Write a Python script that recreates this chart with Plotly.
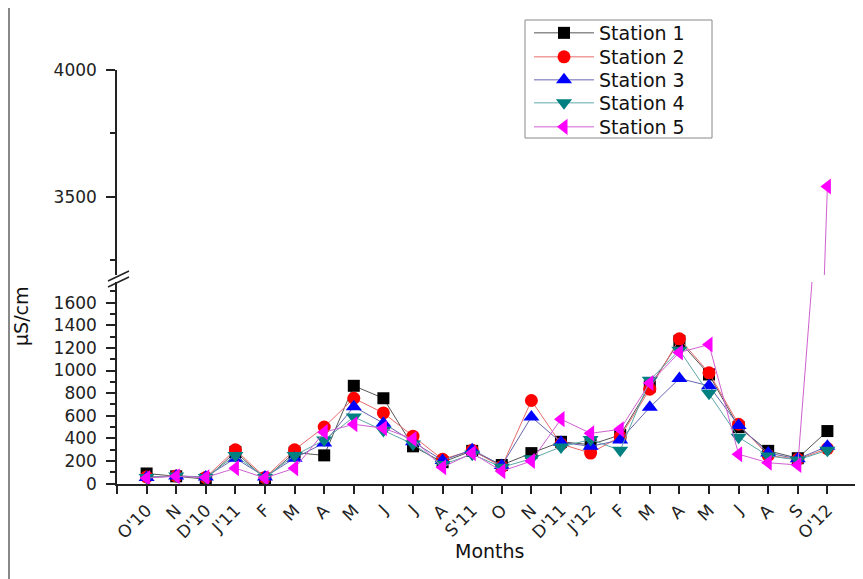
import plotly.graph_objects as go

months = ["O'10", "N", "D'10", "J'11", "F", "M", "A", "M", "J", "J", "A", "S'11",
          "O", "N", "D'11", "J'12", "F", "M", "A", "M", "J", "A", "S", "O'12"]

station1 = [90, 65, 40, 280, 45, 275, 250, 865, 755, 330, 190, 290,
            165, 270, 370, 345, 430, 860, 1260, 965, 500, 290, 225, 465]
station2 = [60, 68, 55, 300, 55, 300, 500, 755, 625, 420, 215, 295,
            150, 735, 350, 270, 415, 835, 1280, 980, 525, 250, 215, 310]
station3 = [55, 68, 60, 225, 60, 225, 360, 680, 535, 370, 205, 300,
            160, 590, 365, 330, 385, 675, 930, 865, 515, 270, 220, 330]
station4 = [55, 68, 55, 250, 55, 250, 385, 590, 470, 350, 170, 260,
            145, 220, 325, 390, 295, 915, 1180, 800, 410, 245, 210, 295]
station5 = [50, 65, 55, 137, 50, 137, 455, 525, 490, 395, 145, 270,
            110, 200, 570, 445, 480, 890, 1160, 1230, 260, 185, 165, 3540]

names = ["Station 1", "Station 2", "Station 3", "Station 4", "Station 5"]
series = [station1, station2, station3, station4, station5]
marker_colors = ["#000000", "#FF0000", "#0000FF", "#008080", "#FF00FF"]
line_colors = ["#555555", "#E86A6A", "#6666B0", "#5FA8A8", "#D060D0"]
symbols = ["square", "circle", "triangle-up", "triangle-down", "triangle-left"]
sizes = [12, 13, 14, 14, 14]

x = list(range(len(months)))
legend_ids = ["legend", "legend2", "legend3", "legend4", "legend5"]

fig = go.Figure()
for name, vals, mc, lc, sym, sz, lg in zip(names, series, marker_colors, line_colors,
                                           symbols, sizes, legend_ids):
    for ax in ["y", "y2"]:
        fig.add_trace(go.Scatter(
            x=x, y=vals, name=name, mode="lines+markers",
            xaxis="x", yaxis=ax,
            line=dict(color=lc, width=1),
            marker=dict(symbol=sym, size=sz, color=mc, line=dict(width=0)),
            showlegend=(ax == "y"), legendgroup=name, legend=lg,
        ))

# The page body has an 8px default margin, so the figure starts at screen (8, 8).
OFF = 8
W, H = 863 - OFF, 579 - OFF
# plot area in screen pixels: x 117..857, y 70..484
L, R, T, B = 117 - OFF, 863 - 857, 70 - OFF, 579 - 484
pw, ph = W - L - R, H - T - B


def px_x(p):
    """screen x pixel -> paper x"""
    return (p - OFF - L) / pw


def px_y(p):
    """screen y pixel -> paper y"""
    return (H - B - (p - OFF)) / ph


tickfont = dict(family="DejaVu Sans", size=17, color="#222")
axis_common = dict(showline=True, linecolor="#222", linewidth=1.5, ticks="outside",
                   tickcolor="#222", tickwidth=1.5, showgrid=False, zeroline=False,
                   tickfont=tickfont)

fig.update_layout(
    width=W, height=H,
    margin=dict(l=L, r=R, t=T, b=B, autoexpand=False),
    paper_bgcolor="white", plot_bgcolor="white",
    xaxis=dict(
        range=[-1, 24],
        tickmode="array",
        tickvals=list(range(-1, 25)),
        ticktext=[""] + months + [""],
        tickangle=-45, ticklen=8, anchor="y",
        **axis_common,
    ),
    yaxis=dict(
        domain=[0, 0.488], range=[-3, 1783], tickmode="linear", tick0=0, dtick=200,
        ticklen=9, ticklabelstandoff=6,
        minor=dict(dtick=100, ticks="outside", ticklen=5, tickcolor="#222", tickwidth=1.5),
        anchor="x",
        **axis_common,
    ),
    yaxis2=dict(
        domain=[0.505, 1], range=[3191, 4000], tickmode="linear", tick0=3500, dtick=500,
        ticklen=9, ticklabelstandoff=6,
        minor=dict(dtick=250, ticks="outside", ticklen=5, tickcolor="#222", tickwidth=1.5),
        anchor="x",
        **axis_common,
    ),
    showlegend=True,
)

# one single-entry legend per station, stacked to mimic the boxed legend
row_y = [33, 57, 80, 103, 127]
for lg, ry in zip(legend_ids, row_y):
    fig.update_layout({lg: dict(
        x=px_x(529), y=px_y(ry), xanchor="left", yanchor="middle",
        bgcolor="rgba(0,0,0,0)", borderwidth=0,
        font=dict(family="DejaVu Sans", size=19, color="#111"),
        itemwidth=60, tracegroupgap=0,
    )})

# legend frame
fig.add_shape(type="rect", xref="paper", yref="paper", layer="below",
              x0=px_x(525), y0=px_y(20), x1=px_x(712), y1=px_y(138),
              line=dict(color="#888", width=1), fillcolor="white")

fig.add_annotation(text="Months", x=px_x(489), y=px_y(551), xref="paper", yref="paper",
                   xanchor="center", yanchor="middle",
                   showarrow=False, font=dict(family="DejaVu Sans", size=19, color="#111"))
fig.add_annotation(text="µS/cm", x=px_x(21), y=px_y(316), xref="paper", yref="paper",
                   xanchor="center", yanchor="middle",
                   showarrow=False, textangle=-90,
                   font=dict(family="DejaVu Sans", size=19, color="#111"))

# axis break marks
for dy in (0, 6):
    fig.add_shape(type="line", xref="paper", yref="paper",
                  x0=px_x(108), y0=px_y(281 + dy), x1=px_x(129), y1=px_y(271 + dy),
                  line=dict(color="#222", width=1.5))

# outer frame (left edge)
fig.add_shape(type="line", xref="paper", yref="paper",
              x0=px_x(9), y0=px_y(H + OFF), x1=px_x(9), y1=px_y(OFF),
              line=dict(color="#888", width=2))

fig.write_html("out.html")
